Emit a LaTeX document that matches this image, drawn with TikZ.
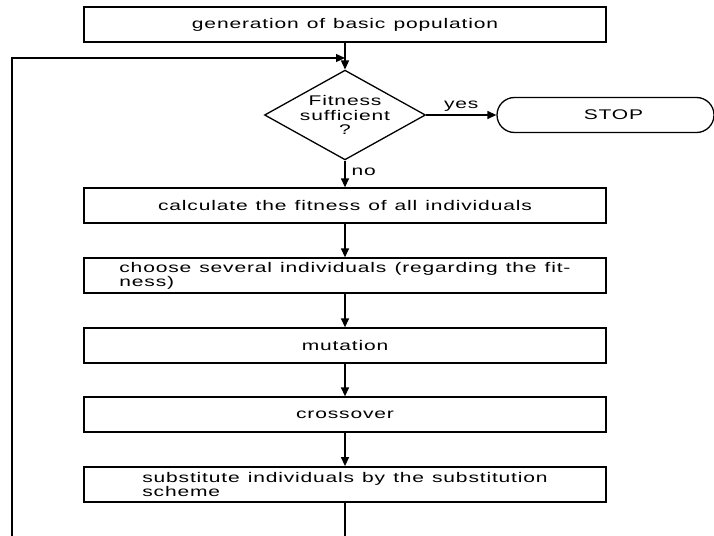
\documentclass[tikz,border=0pt]{standalone}
\usepackage{fontspec}
\setmainfont{Liberation Sans}[FakeStretch=1.5,WordSpace=1.2,LetterSpace=6]
\usetikzlibrary{arrows.meta,shapes.geometric,shapes.misc}
\begin{document}
\begin{tikzpicture}[x=1pt,y=-1pt,
  font=\fontsize{14}{14}\selectfont,
  every node/.style={inner sep=0pt},
  box/.style={draw,line width=1.3pt,minimum width=522pt,minimum height=35pt,align=left},
  arr/.style={line width=1.3pt,-{Triangle[length=9pt,width=8pt]}},
  ln/.style={line width=1.3pt}]
\useasboundingbox (0,0) rectangle (714,535);
\node[box] (b1) at (345,24.5) {generation of basic population};
\node[draw,diamond,line width=1.3pt,minimum width=161pt,minimum height=76pt,align=center,
  font=\fontsize{14}{14.8}\selectfont] (d) at (345,115)
  {\makebox[50pt]{Fitness}\\\makebox[50pt]{sufficient}\\\makebox[50pt]{?}};
\node[draw,rounded rectangle,line width=1.3pt,minimum width=217pt,minimum height=35pt] (stop) at (605.5,115) {\hspace{16pt}STOP};
\node[box] (b2) at (345,205.5) {calculate the fitness of all individuals};
\node[box] (b3) at (345,275.5) {choose several individuals (regarding the fit-\\ness)};
\node[box] (b4) at (345,345.5) {mutation};
\node[box] (b5) at (345,414.5) {crossover};
\node[box,line width=1.8pt] (b6) at (345,484.5) {substitute individuals by the substitution\\scheme};
\coordinate (c1) at (345,545);
\coordinate (c2) at (12,545);
\coordinate (c4) at (345,58);
\draw[arr] (b1) -- (d);
\draw[arr] (d) -- node[above=3pt]{yes} (stop);
\draw[arr] (d) -- node[pos=0.43,right=6pt]{no} (b2);
\draw[arr] (b2) -- (b3);
\draw[arr] (b3) -- (b4);
\draw[arr] (b4) -- (b5);
\draw[arr] (b5) -- (b6);
\draw[arr] (b6) -- (c1) -- (c2) |- (c4);
\end{tikzpicture}
\end{document}
